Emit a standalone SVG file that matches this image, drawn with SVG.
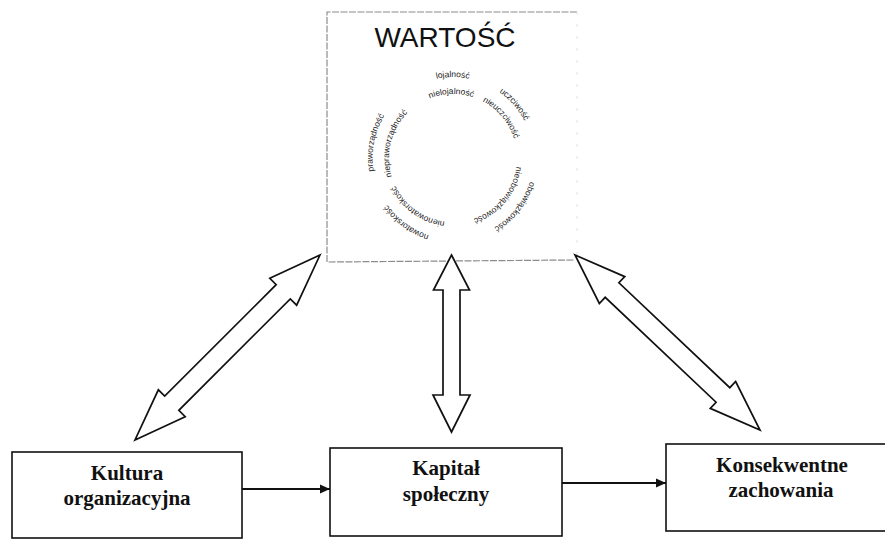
<svg xmlns="http://www.w3.org/2000/svg" width="885" height="539" viewBox="0 0 885 539">
<style>
.box{fill:#fff;stroke:#111;stroke-width:1.6}
.lbl{font-family:"Liberation Serif","Times New Roman",serif;font-weight:bold;font-size:21px;fill:#111;text-anchor:middle}
.ring{font-family:"Liberation Sans",Arial,sans-serif;font-size:8.5px;fill:#222}
.dbl{fill:#fff;stroke:#111;stroke-width:1.7;stroke-linejoin:miter}
.conn{stroke:#111;stroke-width:1.8;fill:none}
.frame{fill:none;stroke:#8c8c8c;stroke-width:1.2;stroke-dasharray:7 1.5}
</style>
<defs>
<marker id="ah" markerUnits="userSpaceOnUse" markerWidth="10" markerHeight="10" refX="10" refY="5" orient="auto">
<path d="M0,0.5 L10,5 L0,9.5 z" fill="#111"/>
</marker>
<path id="outerRing" d="M 464.27,238.21 A 81 81 0 0 1 441.73,77.79 A 81 81 0 0 1 464.27,238.21"/>
<path id="innerRing" d="M 461.91,221.38 A 64 64 0 0 1 444.09,94.62 A 64 64 0 0 1 461.91,221.38"/>
</defs>
<rect width="885" height="539" fill="#fff"/>

<g id="node-wartosc">
<path class="frame" d="M577,12 L327,12 L327,262 L575,260"/>
<path d="M577,12 L577,260" fill="none" stroke="#e2e2e2" stroke-width="1" stroke-dasharray="3 9"/>
<text x="445" y="47" font-family="'Liberation Sans',Arial,sans-serif" font-size="28" fill="#111" text-anchor="middle">WARTOŚĆ</text>
<g class="ring" text-anchor="middle">
<text><textPath href="#outerRing" startOffset="52.2%">lojalność</textPath></text>
<text><textPath href="#innerRing" startOffset="51.8%">nielojalność</textPath></text>
<text><textPath href="#outerRing" startOffset="65.8%">uczciwość</textPath></text>
<text><textPath href="#innerRing" startOffset="66.1%">nieuczciwość</textPath></text>
<text><textPath href="#outerRing" startOffset="87.8%">obowiązkowość</textPath></text>
<text><textPath href="#innerRing" startOffset="88.2%">nieobowiązkowość</textPath></text>
<text><textPath href="#outerRing" startOffset="12.2%">nowatorskość</textPath></text>
<text><textPath href="#innerRing" startOffset="12.2%">nienowatorskość</textPath></text>
<text><textPath href="#outerRing" startOffset="30.3%">praworządność</textPath></text>
<text><textPath href="#innerRing" startOffset="31.1%">niepraworządność</textPath></text>
</g>
</g>

<g id="node-kultura">
<rect class="box" x="12" y="452" width="230" height="86"/>
<text class="lbl" x="127" y="480">Kultura</text>
<text class="lbl" x="127" y="505">organizacyjna</text>
</g>

<g id="node-kapital">
<rect class="box" x="330" y="448" width="232" height="88"/>
<text class="lbl" x="446" y="475">Kapitał</text>
<text class="lbl" x="446" y="501">społeczny</text>
</g>

<g id="node-konsekwentne">
<rect class="box" x="666" y="444" width="232" height="87"/>
<text class="lbl" x="782" y="472">Konsekwentne</text>
<text class="lbl" x="781" y="497">zachowania</text>
</g>

<g id="connectors">
<polygon class="dbl" points="320,255 296.66,305.20 290.30,298.84 178.84,410.30 185.20,416.66 135,440 158.34,389.80 164.70,396.16 276.16,284.70 269.80,278.34"/>
<polygon class="dbl" points="451.5,255 469.5,290 460,290 460,395 470,395 451.5,432 433,395 443,395 443,290 433.5,290"/>
<polygon class="dbl" points="575,255 624.76,276.61 618.92,282.78 729.82,387.68 735.66,381.51 760,430 710.24,408.39 716.08,402.22 605.18,297.32 599.34,303.49"/>
<line class="conn" x1="242" y1="489" x2="330" y2="489" marker-end="url(#ah)"/>
<line class="conn" x1="562" y1="483" x2="666" y2="483" marker-end="url(#ah)"/>
</g>
</svg>
